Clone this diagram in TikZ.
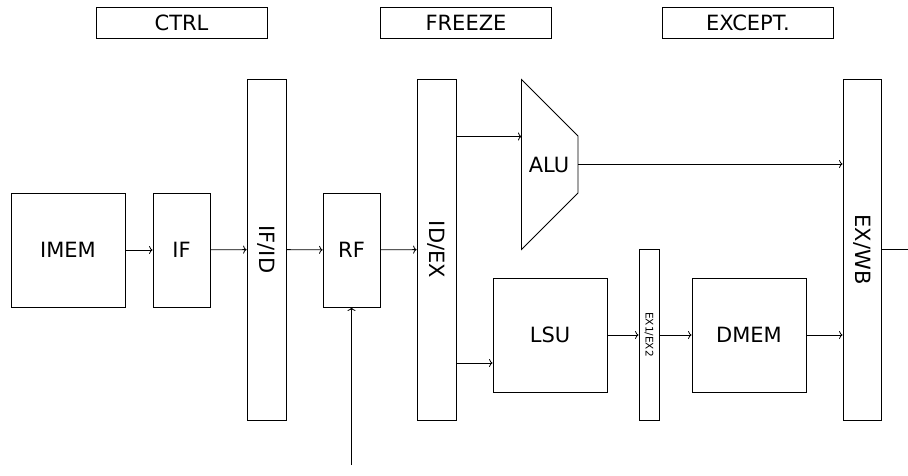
\documentclass[tikz,border=0pt]{standalone}
\usepackage{fontspec}
\setmainfont{DejaVu Sans}
\usetikzlibrary{arrows.meta}
\begin{document}
\begin{tikzpicture}[x=1pt,y=-1pt,
  line width=0.8pt,
  blk/.style={draw, rectangle, inner sep=0pt, font=\fontsize{21}{24}\selectfont},
  bar/.style={draw, rectangle, inner sep=0pt, minimum width=39pt, minimum height=341pt, font=\fontsize{21}{24}\selectfont},
  topbox/.style={draw, rectangle, inner sep=0pt, minimum width=171pt, minimum height=31pt, font=\fontsize{21}{24}\selectfont},
  conn/.style={-{To[length=3.5pt,width=8pt]}}]
\useasboundingbox (0,0) rectangle (908,475);
% top boxes
\node[topbox] (ctrl) at (181.5,22.5) {CTRL};
\node[topbox] (freeze) at (466,22.5) {FREEZE};
\node[topbox] (except) at (748,22.5) {EXCEPT.};
% blocks
\node[blk, minimum width=114pt, minimum height=114pt] (imem) at (68,250) {IMEM};
\node[blk, minimum width=57pt, minimum height=114pt] (if) at (181.5,250) {IF};
\node[bar] (ifid) at (266.5,249.5) {\rotatebox{-90}{IF/ID}};
\node[blk, minimum width=57pt, minimum height=114pt] (rf) at (351.5,250) {RF};
\node[bar] (idex) at (436.5,249.5) {\rotatebox{-90}{ID/EX}};
\node[bar, minimum width=38pt] (exwb) at (862,249.5) {\rotatebox{-90}{EX/WB}};
\node[blk, minimum width=114pt, minimum height=114pt] (lsu) at (550,335) {LSU};
\node[draw, rectangle, inner sep=0pt, minimum width=20pt, minimum height=171pt, font=\fontsize{10.5}{12}\selectfont] (ex12) at (649,334.5) {\rotatebox{-90}{EX1/EX2}};
\node[blk, minimum width=114pt, minimum height=114pt] (dmem) at (749,335) {DMEM};
% ALU
\coordinate (alutl) at (521.5,79.5);
\coordinate (alubl) at (521.5,249.5);
\coordinate (alutr) at (578,136);
\coordinate (alubr) at (578,193);
\coordinate (aluin) at (521.5,136.5);
\coordinate (aluout) at (578,164);
\draw (alutl) -- (alutr) -- (alubr) -- (alubl) -- cycle;
\node[font=\fontsize{21}{24}\selectfont] (alu) at (549,165) {ALU};
% coordinates
\coordinate (lsuin) at (493,363);
\coordinate (rfsrc) at (351.5,465);
\coordinate (outend) at (908,249.5);
% connectors
\draw[conn] (imem) -- (if);
\draw[conn] (if) -- (ifid);
\draw[conn] (ifid) -- (rf);
\draw[conn] (rf) -- (idex);
\draw[conn] (idex.east |- aluin) -- (aluin);
\draw[conn] (aluout) -- (exwb.west |- aluout);
\draw[conn] (idex.east |- lsuin) -- (lsu.west |- lsuin);
\draw[conn] (lsu) -- (lsu -| ex12.west);
\draw[conn] (ex12.east |- dmem) -- (dmem);
\draw[conn] (dmem) -- (dmem -| exwb.west);
\draw (exwb) -- (outend);
\draw[conn] (rfsrc) -- (rf);
\end{tikzpicture}
\end{document}
